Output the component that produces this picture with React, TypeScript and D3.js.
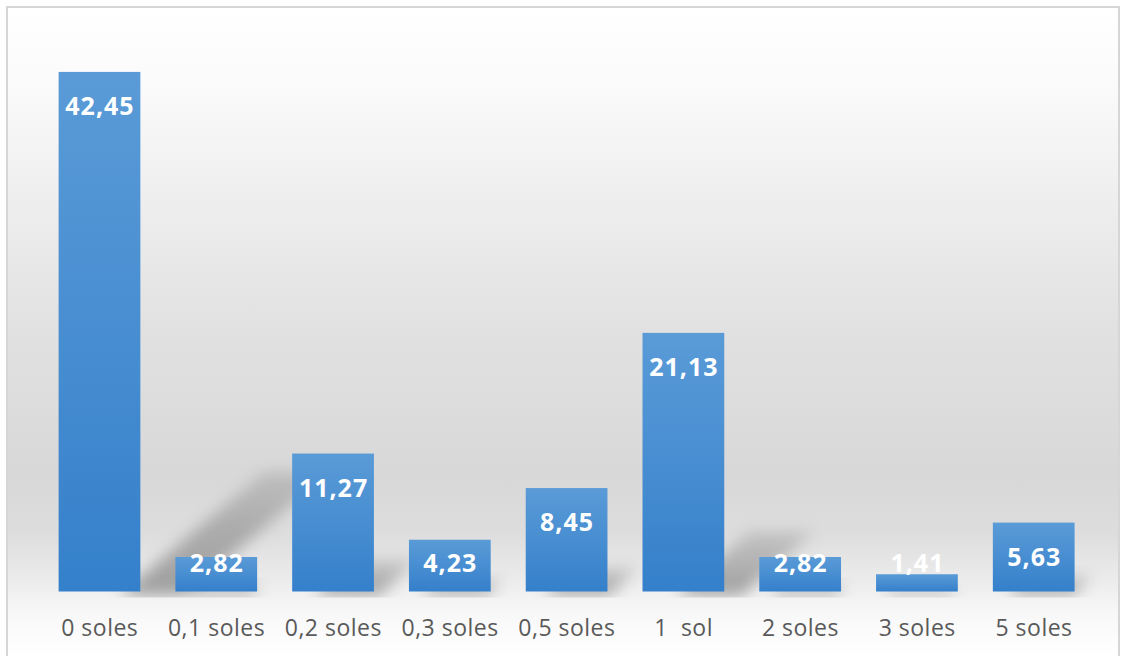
import React from 'react';
import * as d3 from 'd3';

const categories = ['0 soles', '0,1 soles', '0,2 soles', '0,3 soles', '0,5 soles', '1  sol', '2 soles', '3 soles', '5 soles'];
const values = [42.45, 2.82, 11.27, 4.23, 8.45, 21.13, 2.82, 1.41, 5.63];
const yDomain = [0, 45];

const W = 1122;
const H = 656;
const BASE = 591.5;

export default function App() {
  const x = d3.scaleBand<string>().domain(categories).range([41.1, 1092.1]).paddingInner(0.3).paddingOuter(0.15);
  const y = d3.scaleLinear().domain(yDomain).range([BASE, 40.7]);
  const bw = x.bandwidth();
  const fmt = (v: number) => v.toFixed(2).replace('.', ',');

  const shadowPts = (c: string, v: number) => {
    const h = BASE - y(v);
    const cx = (x(c) as number) + bw / 2;
    const bx = cx + 0.1 * h;
    const tx = bx + 0.28 * h;
    const ty = BASE - 0.23 * h;
    const w = bw * 0.8;
    return [
      [bx - w / 2, BASE + 4],
      [bx + w / 2, BASE + 4],
      [tx + w / 2, ty],
      [tx - w / 2, ty],
    ].map((p) => p.join(',')).join(' ');
  };

  return (
    <svg width={W} height={H} style={{ position: 'absolute', left: 0, top: 0, display: 'block' }}>
      <defs>
        <linearGradient id="bg" gradientUnits="userSpaceOnUse" x1="0" y1="7" x2="0" y2="656">
          <stop offset={0} stopColor="#ffffff" />
          <stop offset={0.11} stopColor="#fbfbfb" />
          <stop offset={0.3} stopColor="#eeeeee" />
          <stop offset={0.5} stopColor="#e1e1e1" />
          <stop offset={0.72} stopColor="#d8d8d8" />
          <stop offset={0.81} stopColor="#dddddd" />
          <stop offset={0.88} stopColor="#ebebeb" />
          <stop offset={0.93} stopColor="#f7f7f7" />
          <stop offset={0.98} stopColor="#fdfdfd" />
          <stop offset={1} stopColor="#ffffff" />
        </linearGradient>
        <linearGradient id="barGrad" x1="0" y1="0" x2="0" y2="1">
          <stop offset={0} stopColor="#5a9bd7" />
          <stop offset={1} stopColor="#3580cb" />
        </linearGradient>
        <linearGradient id="shGrad" x1="0" y1="1" x2="0" y2="0">
          <stop offset={0} stopColor="#000" stopOpacity={0.34} />
          <stop offset={1} stopColor="#000" stopOpacity={0.12} />
        </linearGradient>
        <filter id="blur" x="-50%" y="-50%" width="200%" height="200%">
          <feGaussianBlur stdDeviation={7.5} />
        </filter>
        <clipPath id="plotClip">
          <rect x={8} y={8} width={1110} height={BASE - 8 + 6} />
        </clipPath>
      </defs>
      <rect x={0} y={0} width={W} height={H} fill="#ffffff" />
      <rect x={7} y={7} width={1112} height={700} fill="url(#bg)" stroke="#d6d6d6" strokeWidth={2} />
      <g clipPath="url(#plotClip)">
        {categories.map((c, i) => (
          <polygon key={'s' + i} points={shadowPts(c, values[i])} fill="url(#shGrad)" filter="url(#blur)" />
        ))}
      </g>
      {categories.map((c, i) => (
        <rect
          key={'b' + i}
          x={x(c)}
          y={y(values[i])}
          width={bw}
          height={BASE - y(values[i])}
          fill="url(#barGrad)"
        />
      ))}
      {categories.map((c, i) => (
        <text
          key={'v' + i}
          x={(x(c) as number) + bw / 2 + 0.5}
          y={Math.min(y(values[i]) + 43, 571.5)}
          textAnchor="middle"
          fill="#ffffff"
          style={{ fontFamily: '"Open Sans", sans-serif', fontWeight: 700, fontSize: 25, letterSpacing: 1 }}
        >
          {fmt(values[i])}
        </text>
      ))}
      {categories.map((c, i) => (
        <text
          key={'c' + i}
          x={(x(c) as number) + bw / 2 + 0.3}
          y={636}
          textAnchor="middle"
          fill="#595959"
          style={{ fontFamily: '"Open Sans", sans-serif', fontSize: 23, letterSpacing: 0.5, whiteSpace: 'pre' }}
        >
          {c}
        </text>
      ))}
    </svg>
  );
}
